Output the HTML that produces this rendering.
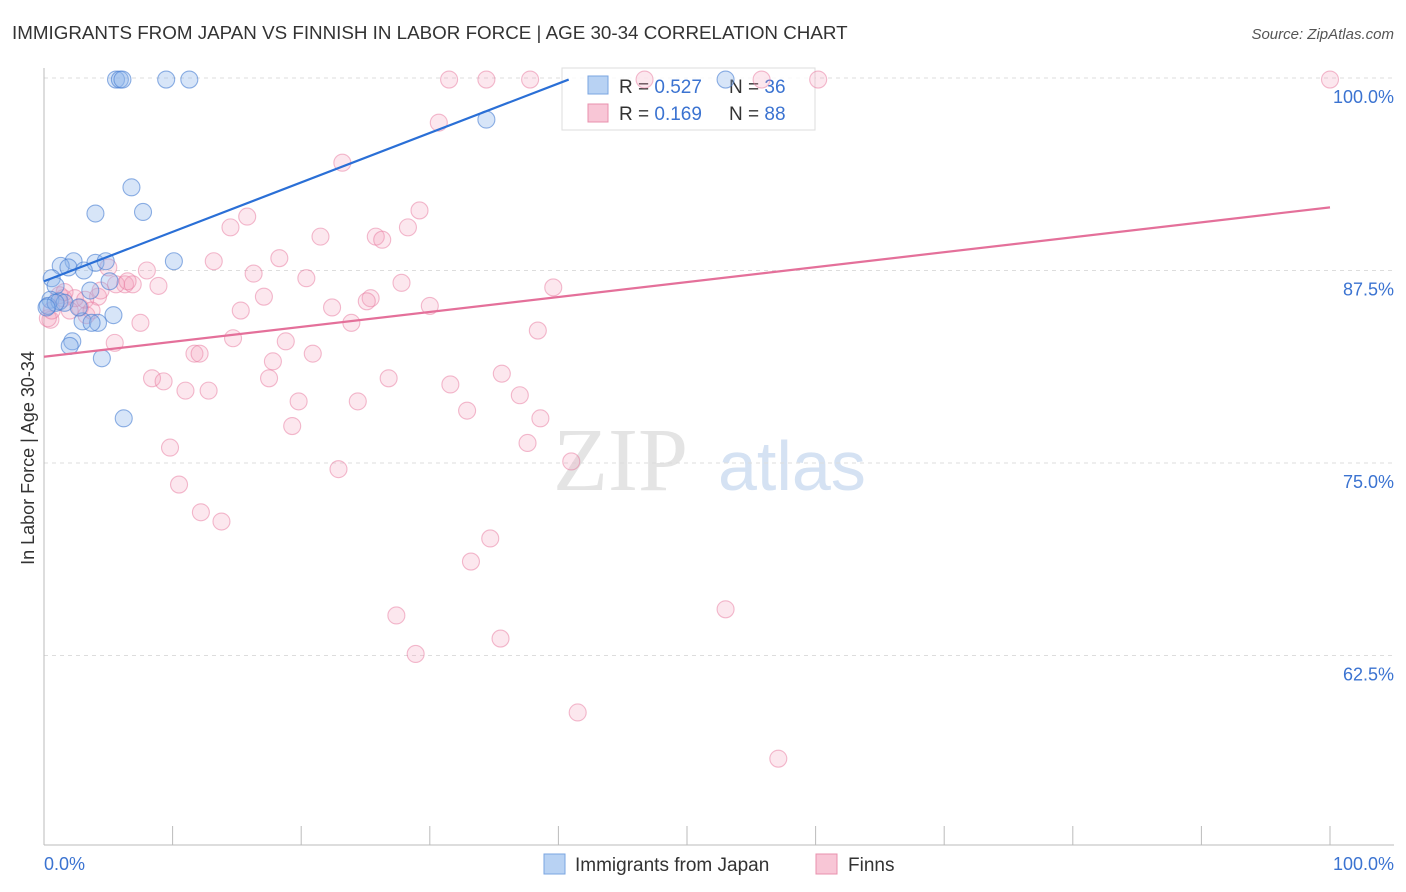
<!DOCTYPE html>
<html><head><meta charset="utf-8"><style>
body{margin:0;background:#fff;font-family:"Liberation Sans",sans-serif}
</style></head><body>
<svg id="c" width="1406" height="892" style="display:block">
<text x="12" y="39" font-size="18.8" fill="#333">IMMIGRANTS FROM JAPAN VS FINNISH IN LABOR FORCE | AGE 30-34 CORRELATION CHART</text>
<text x="1394" y="39" font-size="15" fill="#555" font-style="italic" text-anchor="end">Source: ZipAtlas.com</text>
<text x="34" y="458" font-size="18" fill="#333" text-anchor="middle" transform="rotate(-90 34 458)">In Labor Force | Age 30-34</text>
<text x="553" y="490" font-size="90" fill="#e4e4e4" font-family="Liberation Serif,serif">ZIP</text>
<text x="718" y="490" font-size="70" fill="#d5e2f3">atlas</text>
<g id="grid"></g>
<g>
<rect x="562" y="68" width="253" height="62" fill="#fff" fill-opacity="0.85" stroke="#ddd"/>
<rect x="588" y="76" width="20" height="18" fill="#b8d2f3" stroke="#7aa5e0"/>
<rect x="588" y="104" width="20" height="18" fill="#f8c6d6" stroke="#e890ad"/>
<text x="619" y="93" font-size="19" fill="#333">R = <tspan fill="#3b73d1">0.527</tspan></text>
<text x="729" y="93" font-size="19" fill="#333">N = <tspan fill="#3b73d1">36</tspan></text>
<text x="619" y="120" font-size="19" fill="#333">R = <tspan fill="#3b73d1"> 0.169</tspan></text>
<text x="729" y="120" font-size="19" fill="#333">N = <tspan fill="#3b73d1">88</tspan></text>
</g>
<g id="pts"></g><g id="lines"></g>
<g>
<rect x="544" y="854" width="21" height="20" fill="#b8d2f3" stroke="#7aa5e0"/>
<text x="575" y="871" font-size="19" fill="#333">Immigrants from Japan</text>
<rect x="816" y="854" width="21" height="20" fill="#f8c6d6" stroke="#e890ad"/>
<text x="848" y="871" font-size="19" fill="#333">Finns</text>
</g>
<text x="44" y="870" font-size="18" fill="#3b73d1">0.0%</text>
<text x="1394" y="870" font-size="18" fill="#3b73d1" text-anchor="end">100.0%</text>
</svg>
<script>
const yTicks=[100,87.5,75,62.5];
const yTickLabels=["100.0%","87.5%","75.0%","62.5%"];
const japanX=[5.6,5.9,6.1,9.5,11.3,53,34.4,6.8,4,7.7,10.1,2.3,1.3,1.9,4,4.8,3.1,0.6,5.1,0.9,3.6,0.5,0.3,5.4,3,4.2,3.7,2.2,2,4.5,6.2,1.2,1.6,2.7,0.9,0.2];
const japanY=[99.9,99.9,99.9,99.9,99.9,99.9,97.3,92.9,91.2,91.3,88.1,88.1,87.8,87.7,88.0,88.1,87.5,87.0,86.8,86.5,86.2,85.6,85.2,84.6,84.2,84.1,84.1,82.9,82.6,81.8,77.9,85.5,85.4,85.1,85.4,85.1];
const finnX=[31.5,34.4,37.8,46.7,55.8,60.2,100,30.7,23.2,29.2,15.8,14.5,28.3,21.5,25.8,26.3,18.3,13.2,8,16.3,20.4,27.8,6.3,8.9,39.6,6.9,5,17.1,4.2,1.5,25.4,30,22.4,25.1,15.3,2.8,3.3,7.5,23.9,38.4,14.7,5.5,18.8,11.7,12.1,20.9,17.8,8.4,9.3,17.5,26.8,35.6,31.6,11,12.8,19.8,24.4,37,32.9,38.6,19.3,37.6,9.8,41,22.9,10.5,12.2,13.8,34.7,33.2,27.4,53,35.5,28.9,41.5,57.1,0.5,0.3,2.4,4.4,1.2,5.6,2,6.5,3.2,0.6,3.7,1.6];
const finnY=[99.9,99.9,99.9,99.9,99.9,99.9,99.9,97.1,94.5,91.4,91.0,90.3,90.3,89.7,89.7,89.5,88.3,88.1,87.5,87.3,87.0,86.7,86.6,86.5,86.4,86.6,87.7,85.8,85.8,85.7,85.7,85.2,85.1,85.5,84.9,85.1,84.6,84.1,84.1,83.6,83.1,82.8,82.9,82.1,82.1,82.1,81.6,80.5,80.3,80.5,80.5,80.8,80.1,79.7,79.7,79.0,79.0,79.4,78.4,77.9,77.4,76.3,76.0,75.1,74.6,73.6,71.8,71.2,70.1,68.6,65.1,65.5,63.6,62.6,58.8,55.8,84.3,84.4,85.7,86.2,85.9,86.6,84.9,86.8,85.6,84.9,84.9,86.1];
const japanTrend=[[0,86.8],[40.8,99.9]];
const finnTrend=[[0,81.9],[100,91.6]];
const NS="http://www.w3.org/2000/svg";
const X=v=>44+v*12.86, Y=v=>78+(100-v)*15.4;
function mk(t,a,p){const e=document.createElementNS(NS,t);for(const k in a)e.setAttribute(k,a[k]);p.appendChild(e);return e;}
const g=document.getElementById('grid');
yTicks.forEach((t,i)=>{
 const l=mk('line',{x1:44,x2:1394,y1:Y(t),y2:Y(t),stroke:'#ddd','stroke-dasharray':'4,4'},g);
 
 
 const tx=mk('text',{x:1394,y:Y(t)+25,'font-size':18,fill:'#3b73d1','text-anchor':'end'},g);
 tx.textContent=yTickLabels[i];
 
 
});
mk('line',{x1:44,x2:44,y1:68,y2:845,stroke:'#bbb'},g);
mk('line',{x1:44,x2:1394,y1:845,y2:845,stroke:'#bbb'},g);
for(let i=0;i<=10;i++){mk('line',{x1:X(i*10),x2:X(i*10),y1:826,y2:845,stroke:'#bbb'},g);}
const p=document.getElementById('pts');
finnX.forEach((x,i)=>{
 const c=mk('circle',{cx:X(x),cy:Y(finnY[i]),r:8.5,fill:'rgba(244,160,188,0.25)',stroke:'rgba(232,120,158,0.5)','stroke-width':1.1},p);
 
 
});
japanX.forEach((x,i)=>{
 const c=mk('circle',{cx:X(x),cy:Y(japanY[i]),r:8.5,fill:'rgba(140,180,235,0.35)',stroke:'rgba(70,125,210,0.6)','stroke-width':1.1},p);
 
 
});
const L=document.getElementById('lines');
const a=mk('line',{x1:X(japanTrend[0][0]),y1:Y(japanTrend[0][1]),x2:X(japanTrend[1][0]),y2:Y(japanTrend[1][1]),stroke:'#2a6fd6','stroke-width':2.2},L);


const b=mk('line',{x1:X(finnTrend[0][0]),y1:Y(finnTrend[0][1]),x2:X(finnTrend[1][0]),y2:Y(finnTrend[1][1]),stroke:'#e4709a','stroke-width':2.2},L);


</script>
</body></html>
